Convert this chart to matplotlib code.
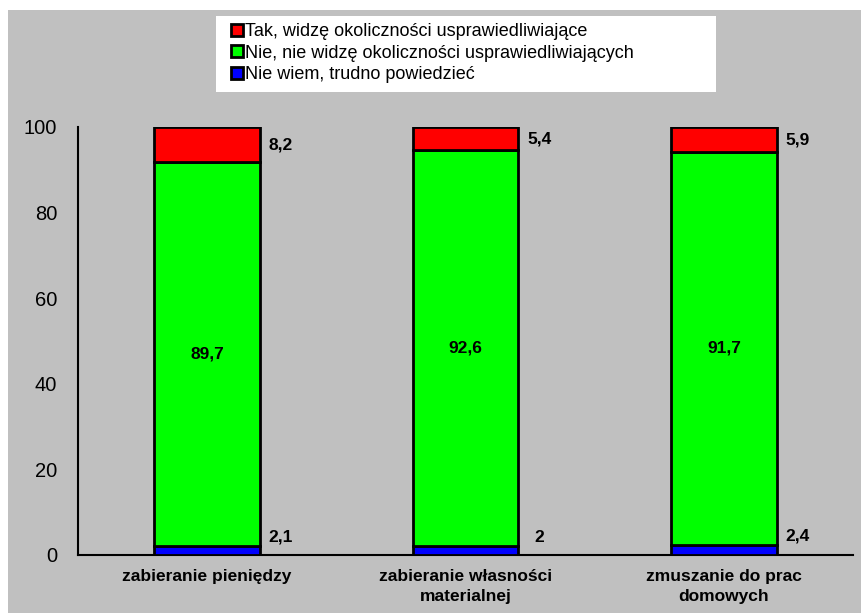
import numpy as np
import matplotlib
matplotlib.use("Agg")
import matplotlib.pyplot as plt
from matplotlib.patches import Rectangle

# ===================== dane =====================
kategorie = ["zabieranie pieniędzy", "zabieranie własności\nmaterialnej", "zmuszanie do prac\ndomowych"]
nie_wiem = [2.1, 2, 2.4]
nie = [89.7, 92.6, 91.7]
tak = [8.2, 5.4, 5.9]
serie_nazwy = ["Tak, widzę okoliczności usprawiedliwiające",
               "Nie, nie widzę okoliczności usprawiedliwiających",
               "Nie wiem, trudno powiedzieć"]
y_ticks = [0, 20, 40, 60, 80, 100]
# ================================================

GREY = "#C0C0C0"
plt.rcParams['font.family'] = ['Liberation Sans', 'DejaVu Sans']
NARROW = ['Liberation Sans Narrow', 'Liberation Sans', 'DejaVu Sans']

def fmt(v):
    s = f"{v:g}"
    return s.replace(".", ",")

fig = plt.figure(figsize=(8.61, 6.13), dpi=100)
fig.patch.set_facecolor("white")
# szare tło wykresu
fig.patches.append(Rectangle((8 / 861, 0), 1 - 8 / 861, 1 - 10 / 613,
                             transform=fig.transFigure, facecolor=GREY,
                             edgecolor="none", zorder=-2))
# białe pole legendy
fig.patches.append(Rectangle((216 / 861, 1 - 92 / 613), 500 / 861, 76 / 613,
                             transform=fig.transFigure, facecolor="white",
                             edgecolor="none", zorder=-1))

ax = fig.add_axes([78 / 861, 1 - 555 / 613, 775 / 861, 428 / 613])
ax.set_facecolor("none")

x = np.arange(len(kategorie))
w = 0.41
b1 = ax.bar(x, nie_wiem, w, color="#0000FF", edgecolor="black", linewidth=2, zorder=3)
b2 = ax.bar(x, nie, w, bottom=nie_wiem, color="#00FF00", edgecolor="black", linewidth=2, zorder=3)
bottom3 = np.array(nie_wiem) + np.array(nie)
b3 = ax.bar(x, tak, w, bottom=bottom3, color="#FF0000", edgecolor="black", linewidth=2, zorder=3)

off = w / 2 + 0.08
for i in range(len(x)):
    ax.text(x[i], nie_wiem[i] + nie[i] / 2, fmt(nie[i]), ha="center", va="center",
            fontsize=12.5, fontweight="bold", family=NARROW, zorder=4)
    ax.text(x[i] + off, nie_wiem[i] + 0.4, fmt(nie_wiem[i]), ha="center", va="bottom",
            fontsize=12.5, fontweight="bold", family=NARROW, zorder=4)
    ax.text(x[i] + off, min(bottom3[i] + tak[i] / 2, 99.3), fmt(tak[i]), ha="center", va="center",
            fontsize=12.5, fontweight="bold", family=NARROW, zorder=4)

ax.set_xlim(-0.5, 2.5)
ax.set_ylim(0, 100)
ax.set_yticks(y_ticks)
ax.set_yticklabels([str(t) for t in y_ticks], fontsize=14.5)
ax.tick_params(axis="y", length=0, pad=15)
ax.set_xticks(x)
ax.set_xticklabels(kategorie, fontsize=12.5, fontweight="bold", family=NARROW,
                   linespacing=1.45)
ax.tick_params(axis="x", length=0, pad=10)
for s in ["top", "right"]:
    ax.spines[s].set_visible(False)
for s in ["left", "bottom"]:
    ax.spines[s].set_linewidth(1.5)
    ax.spines[s].set_color("black")

leg = fig.legend([b3, b2, b1], serie_nazwy, loc="upper left",
                 bbox_to_anchor=(222 / 861, 1 - 14 / 613), frameon=False,
                 fontsize=13, handlelength=0.65, handleheight=0.65,
                 handletextpad=0.1, labelspacing=0.25, borderpad=0)
leg.set_zorder(5)

plt.savefig("out.png", dpi=100, facecolor=fig.get_facecolor())
